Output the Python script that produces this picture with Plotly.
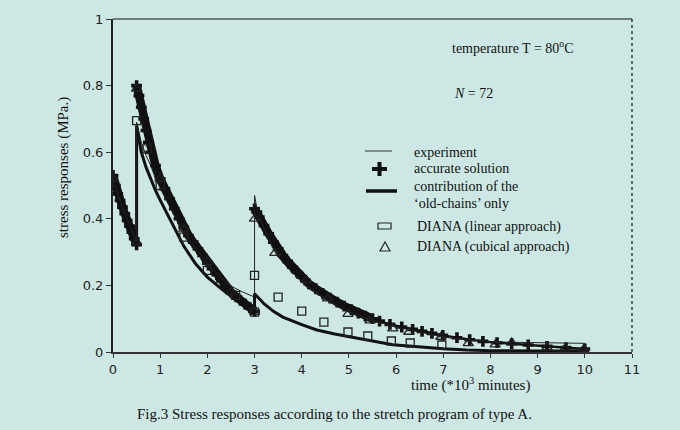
import plotly.graph_objects as go

# ---------------- data (time in 10^3 minutes, stress in MPa) ----------------
# accurate solution, three relaxation segments
acc_t1 = [0, 0.05, 0.1, 0.15, 0.2, 0.25, 0.3, 0.35, 0.4, 0.45, 0.5]
acc_s1 = [0.53, 0.50, 0.475, 0.455, 0.435, 0.415, 0.395, 0.378, 0.36, 0.34, 0.322]
acc_t2 = [0.5, 0.55, 0.6, 0.65, 0.7, 0.75, 0.8, 0.9, 1.0, 1.1, 1.2, 1.3, 1.4, 1.5, 1.6,
          1.7, 1.8, 1.9, 2.0, 2.1, 2.2, 2.3, 2.4, 2.5, 2.6, 2.7, 2.8, 2.9, 3.0]
acc_s2 = [0.80, 0.77, 0.735, 0.70, 0.665, 0.63, 0.60, 0.56, 0.52, 0.49, 0.46, 0.43, 0.40,
          0.375, 0.35, 0.33, 0.31, 0.29, 0.27, 0.25, 0.232, 0.213, 0.195, 0.18, 0.167,
          0.155, 0.144, 0.133, 0.122]
acc_t3 = [3.0, 3.05, 3.1, 3.2, 3.3, 3.4, 3.5, 3.6, 3.7, 3.8, 3.9, 4.0, 4.15, 4.3, 4.45,
          4.6, 4.75, 4.9, 5.05, 5.2, 5.35, 5.5, 5.65, 5.87, 6.12, 6.35, 6.55, 6.76, 6.99,
          7.29, 7.56, 7.84, 8.14, 8.45, 8.8, 9.2, 9.6, 10.0]
acc_s3 = [0.43, 0.42, 0.405, 0.38, 0.355, 0.33, 0.31, 0.29, 0.272, 0.255, 0.24, 0.225,
          0.205, 0.19, 0.175, 0.162, 0.15, 0.138, 0.127, 0.117, 0.108, 0.10, 0.093, 0.083,
          0.075, 0.068, 0.062, 0.056, 0.05, 0.043, 0.037, 0.032, 0.028, 0.025, 0.021,
          0.017, 0.013, 0.009]

# experiment (thin line, with the two loading steps)
exp_t = [0, 0.1, 0.2, 0.3, 0.4, 0.5, 0.5, 0.6, 0.7, 0.8, 0.9, 1.0, 1.15, 1.3, 1.5, 1.75,
         2.0, 2.25, 2.5, 2.75, 2.95, 3.0, 3.0, 3.05, 3.15, 3.3, 3.47, 3.75, 4.03, 4.3,
         4.53, 4.8, 5.02, 5.44, 6.0, 6.5, 7.0, 7.5, 8.0, 8.5, 9.0, 9.5, 10.0, 10.0]
exp_s = [0.52, 0.475, 0.435, 0.40, 0.365, 0.33, 0.69, 0.63, 0.59, 0.56, 0.52, 0.49, 0.45,
         0.41, 0.36, 0.31, 0.265, 0.228, 0.198, 0.18, 0.167, 0.165, 0.47, 0.43, 0.39,
         0.34, 0.29, 0.245, 0.207, 0.178, 0.156, 0.135, 0.12, 0.096, 0.075, 0.06, 0.045,
         0.036, 0.031, 0.029, 0.028, 0.027, 0.026, 0.0]

# contribution of the 'old-chains' only (thick line)
old_t = [0, 0.1, 0.2, 0.3, 0.4, 0.5, 0.5, 0.55, 0.6, 0.7, 0.8, 0.9, 1.0, 1.25, 1.5, 1.75,
         2.0, 2.33, 2.66, 3.0, 3.0, 3.2, 3.4, 3.6, 4.0, 4.32, 4.7, 5.02, 5.5, 5.93, 6.5,
         7.0, 7.5, 8.0, 9.0, 10.0]
old_s = [0.53, 0.475, 0.435, 0.395, 0.36, 0.322, 0.68, 0.64, 0.60, 0.555, 0.52, 0.485,
         0.456, 0.387, 0.318, 0.265, 0.225, 0.186, 0.15, 0.115, 0.175, 0.145, 0.122,
         0.105, 0.082, 0.066, 0.054, 0.045, 0.033, 0.022, 0.015, 0.01, 0.006, 0.004,
         0.003, 0.003]

# DIANA (linear approach) - squares
lin_t = [0.5, 0.72, 1.0, 1.5, 2.0, 2.6, 3.0, 3.0, 3.5, 4.0, 4.47, 4.98, 5.4, 5.9, 6.3, 6.97]
lin_s = [0.695, 0.61, 0.50, 0.345, 0.245, 0.17, 0.12, 0.23, 0.165, 0.123, 0.09, 0.06,
         0.048, 0.033, 0.027, 0.021]

# DIANA (cubical approach) - triangles
cub_t = [0, 0.5, 0.5, 1.0, 1.5, 2.0, 2.5, 3.0, 3.0, 3.43, 4.1, 4.55, 4.98, 5.45, 5.93,
         6.27, 6.95, 7.53, 8.1, 8.45, 9.2, 9.58, 9.98]
cub_s = [0.52, 0.33, 0.79, 0.52, 0.37, 0.27, 0.18, 0.12, 0.40, 0.297, 0.216, 0.16, 0.114,
         0.094, 0.07, 0.06, 0.045, 0.026, 0.022, 0.028, 0.013, 0.01, 0.009]

x_ticks = [0, 1, 2, 3, 4, 5, 6, 7, 8, 9, 10, 11]
y_ticks = [0, 0.2, 0.4, 0.6, 0.8, 1]
y_tick_text = ["0", "0.2", "0.4", "0.6", "0.8", "1"]

# ---------------- figure ----------------
BG = "rgb(205,232,228)"
INK = "#111111"
SERIF = "Liberation Serif"

def join(*segs):
    xs, ys = [], []
    for i, (a, b) in enumerate(segs):
        if i:
            xs.append(None)
            ys.append(None)
        xs += a
        ys += b
    return xs, ys

acc_t, acc_s = join((acc_t1, acc_s1), (acc_t2, acc_s2), (acc_t3, acc_s3))
band_t = [t if (t is None or t <= 5.6) else None for t in acc_t]
band_s = [s if (t is not None and t <= 5.6) else None for t, s in zip(acc_t, acc_s)]

fig = go.Figure()
fig.add_trace(go.Scatter(x=band_t, y=band_s, mode="lines",
                         line=dict(color=INK, width=8.5), connectgaps=False,
                         showlegend=False, hoverinfo="skip"))
fig.add_trace(go.Scatter(x=acc_t, y=acc_s, mode="lines+markers", connectgaps=False,
                         line=dict(color=INK, width=2.4),
                         marker=dict(symbol="cross", size=9, color=INK, line=dict(width=0)),
                         name="accurate solution", showlegend=False))
fig.add_trace(go.Scatter(x=old_t, y=old_s, mode="lines",
                         line=dict(color=INK, width=3),
                         name="old-chains", showlegend=False))
fig.add_trace(go.Scatter(x=exp_t, y=exp_s, mode="lines",
                         line=dict(color="#222222", width=1),
                         name="experiment", showlegend=False))
fig.add_trace(go.Scatter(x=lin_t, y=lin_s, mode="markers",
                         marker=dict(symbol="square-open", size=8, color="#222222",
                                     line=dict(width=1.3)),
                         name="DIANA (linear approach)", showlegend=False))
fig.add_trace(go.Scatter(x=cub_t, y=cub_s, mode="markers",
                         marker=dict(symbol="triangle-up-open", size=9, color="#222222",
                                     line=dict(width=1.3)),
                         name="DIANA (cubical approach)", showlegend=False))

L, R, T, B = 113, 632, 19, 352
def px(x):
    return (x - L) / (R - L)
def py(y):
    return (B - y) / (B - T)

shapes = [
    dict(type="line", xref="paper", yref="paper", x0=0, x1=1, y0=1, y1=1,
         line=dict(color=INK, width=1)),
    dict(type="line", xref="paper", yref="paper", x0=1, x1=1, y0=0, y1=1,
         line=dict(color=INK, width=1.2, dash="dot")),
    # legend symbols
    dict(type="line", xref="paper", yref="paper", x0=px(365), x1=px(392), y0=py(151), y1=py(151),
         line=dict(color="#333333", width=1)),
    dict(type="rect", xref="paper", yref="paper", x0=px(372), x1=px(387), y0=py(171), y1=py(167),
         fillcolor=INK, line=dict(width=0)),
    dict(type="rect", xref="paper", yref="paper", x0=px(377.5), x1=px(381.5), y0=py(176), y1=py(162),
         fillcolor=INK, line=dict(width=0)),
    dict(type="line", xref="paper", yref="paper", x0=px(366), x1=px(397), y0=py(191), y1=py(191),
         line=dict(color=INK, width=3.5)),
    dict(type="rect", xref="paper", yref="paper", x0=px(378), x1=px(391), y0=py(229), y1=py(223),
         line=dict(color="#222222", width=1.2)),
    dict(type="path", xref="paper", yref="paper",
         path=f"M{px(380)},{py(251)} L{px(390)},{py(251)} L{px(385)},{py(242)} Z",
         line=dict(color="#222222", width=1.2)),
]

def ann(text, x, y, size=14, xanchor="left", **kw):
    return dict(text=text, x=px(x), y=py(y), xref="paper", yref="paper",
                xanchor=xanchor, yanchor="middle", showarrow=False,
                font=dict(family=SERIF, size=size, color=INK), **kw)

annotations = [
    ann("experiment", 412, 152),
    ann("accurate solution", 412, 169),
    ann("contribution of the", 412, 186),
    ann("‘old-chains’ only", 412, 203),
    ann("DIANA (linear approach)", 415, 227),
    ann("DIANA (cubical approach)", 415, 247),
    ann("temperature T = 80<sup>o</sup>C", 513, 47, xanchor="center"),
    ann("<i>N</i> = 72", 473, 93, xanchor="center"),
    ann("time (*10<sup>3</sup> minutes)", 470, 384, size=15, xanchor="center"),
    ann("stress responses (MPa.)", 63, 168, size=15, xanchor="center", textangle=-90),
    ann("Fig.3 Stress responses according to the stretch program of type A.", 334, 414,
        size=15, xanchor="center"),
]

tickfont = dict(family="DejaVu Sans", size=13, color="#222222")
fig.update_layout(
    width=680, height=430,
    margin=dict(l=L, r=680 - R, t=T, b=430 - B),
    paper_bgcolor=BG, plot_bgcolor=BG,
    showlegend=False,
    shapes=shapes, annotations=annotations,
    xaxis=dict(range=[0, 11], tickvals=x_ticks, ticks="outside", ticklen=4,
               tickwidth=1, tickcolor="#333333", showline=True, linecolor="#333333",
               linewidth=2, showgrid=False, zeroline=False, tickfont=tickfont),
    yaxis=dict(range=[0, 1], tickvals=y_ticks, ticktext=y_tick_text, ticks="outside",
               ticklen=5, tickwidth=1, tickcolor="#333333", showline=True,
               linecolor="#222222", linewidth=2, showgrid=False, zeroline=False,
               tickfont=tickfont),
)

fig.write_html("out.html")
